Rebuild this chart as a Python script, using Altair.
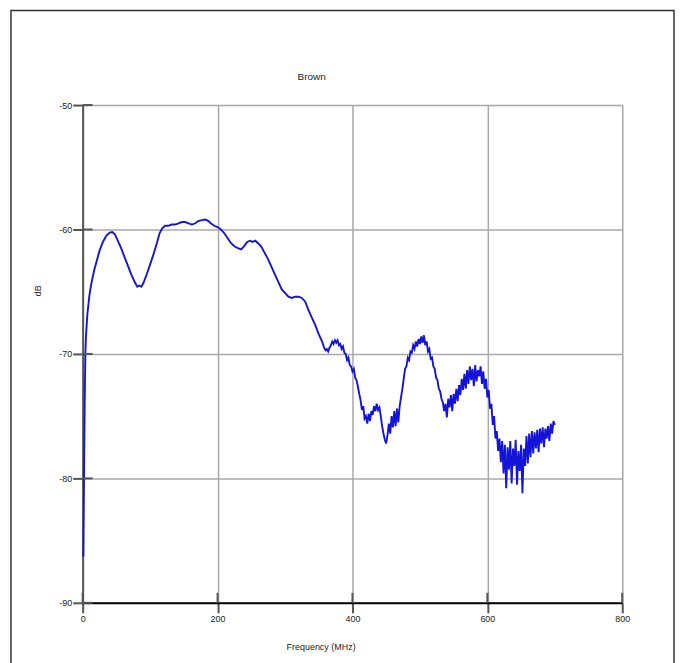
import altair as alt
import pandas as pd

# Frequency (MHz) and attenuation (dB)
freq_smooth = [1, 2, 3, 4, 5, 7, 10, 13, 17, 21, 25, 30, 35, 40, 44, 48, 52, 57, 62, 67,
               72, 77, 81, 84, 87, 90, 95, 100, 105, 110, 114, 118, 122, 127, 132, 137, 142, 147, 152, 157,
               162, 167, 172, 177, 182, 186, 190, 195, 200, 205, 210, 215, 220, 225, 230, 235, 240, 244, 248, 252,
               256, 260, 265, 270, 275, 280, 285, 290, 295, 300, 305, 310, 315, 320, 325, 330, 335, 340, 345, 350,
               355, 358]
db_smooth = [-86.3, -80.0, -74.0, -70.0, -68.5, -66.8, -65.3, -64.3, -63.3, -62.5, -61.7, -61.0, -60.5, -60.25, -60.2, -60.4, -60.9, -61.5, -62.2, -62.9,
             -63.6, -64.2, -64.6, -64.5, -64.6, -64.3, -63.6, -62.8, -62.0, -61.1, -60.3, -59.9, -59.7, -59.7, -59.6, -59.6, -59.5, -59.4, -59.4, -59.5,
             -59.6, -59.5, -59.3, -59.25, -59.2, -59.3, -59.5, -59.7, -59.8, -60.0, -60.3, -60.7, -61.1, -61.35, -61.5, -61.6, -61.3, -61.0, -60.9, -61.0,
             -60.9, -61.1, -61.4, -61.9, -62.4, -63.0, -63.6, -64.2, -64.8, -65.1, -65.4, -65.5, -65.4, -65.4, -65.5, -65.8, -66.5, -67.1, -67.7, -68.4,
             -69.0, -69.5]

freq_noisy = [360, 362, 364, 366, 368, 370, 372, 374, 376, 378, 380, 382, 384, 386, 388, 390, 392, 394, 396, 398,
              400, 402, 404, 406, 408, 410, 412, 414, 416, 418, 420, 422, 424, 426, 428, 430, 432, 434, 436, 438,
              440, 442, 444, 446, 448, 450, 452, 454, 456, 458, 460, 462, 464, 466, 468, 470, 472, 474, 476, 478,
              480, 482, 484, 486, 488, 490, 492, 494, 496, 498, 500, 502, 504, 506, 508, 510, 512, 514, 516, 518,
              520, 522, 524, 526, 528, 530, 532, 534, 536, 538, 540, 542, 544, 546, 548, 550, 552, 554, 556, 558,
              560, 562, 564, 566, 568, 570, 572, 574, 576, 578, 580, 582, 584, 586, 588, 590, 592, 594, 596, 598,
              600, 602, 604, 606, 608, 610, 612, 614, 616, 618, 620, 622, 624, 626, 628, 630, 632, 634, 636, 638,
              640, 642, 644, 646, 648, 650, 652, 654, 656, 658, 660, 662, 664, 666, 668, 670, 672, 674, 676, 678,
              680, 682, 684, 686, 688, 690, 692, 694, 696, 698, 700]
db_noisy = [-69.7, -69.6, -69.8, -69.5, -69.3, -69.0, -69.2, -68.9, -69.1, -68.9, -69.3, -69.2, -69.6, -69.4, -69.9, -70.0, -70.5, -70.3, -70.9, -71.0,
            -71.4, -71.2, -71.9, -72.1, -72.6, -73.2, -73.7, -74.5, -74.2, -75.2, -75.0, -75.6, -74.8, -75.4, -74.6, -74.9, -74.2, -74.6, -74.0, -74.5,
            -74.3, -75.0, -75.8, -76.4, -76.9, -77.2, -76.5, -75.6, -76.4, -75.0, -75.9, -74.6, -75.8, -74.4, -75.5, -74.2, -73.5, -72.8, -72.0, -71.2,
            -71.0, -70.3, -70.5, -69.8, -69.9, -69.3, -69.6, -69.0, -69.4, -68.8, -69.2, -68.6, -69.1, -68.5, -69.3, -69.0, -69.8, -69.6, -70.4, -70.3,
            -71.0, -71.2, -71.9, -72.1, -72.8, -73.0, -73.6, -73.9, -74.6, -74.0, -75.1, -73.6, -74.3, -73.3, -74.6, -73.2, -74.0, -72.8, -73.8, -72.5,
            -73.3, -72.0, -72.9, -71.6, -72.8, -71.3, -72.4, -71.0, -72.1, -71.2, -72.6, -70.9, -72.2, -71.3, -71.8, -71.0, -72.4, -71.4, -72.8, -72.0,
            -73.5, -72.9, -74.4, -74.0, -75.7, -75.0, -76.8, -76.2, -77.8, -76.8, -78.7, -77.0, -79.6, -77.3, -80.8, -77.5, -79.3, -77.0, -80.4, -77.6,
            -79.0, -76.9, -80.5, -77.8, -79.4, -77.3, -81.2, -77.6, -79.0, -76.6, -78.8, -76.4, -78.3, -76.2, -78.0, -76.3, -77.6, -76.1, -77.9, -76.0,
            -77.2, -75.9, -77.5, -76.0, -76.8, -75.8, -77.0, -75.6, -76.4, -75.4, -75.7]

x_ticks = [0, 200, 400, 600, 800]
y_ticks = [-90, -80, -70, -60, -50]
chart_title = ["Brown"]

df = pd.DataFrame({"f": freq_smooth + freq_noisy, "db": db_smooth + db_noisy})
df["order"] = range(len(df))

FONT = "Liberation Sans"
W, H = 542, 500

xscale = alt.Scale(domain=[0, 800], nice=False, zero=False)
yscale = alt.Scale(domain=[-90, -50], nice=False, zero=False)

x_axis = alt.Axis(values=x_ticks, title="Frequency (MHz)", grid=True, gridColor="#a8a8a8", gridWidth=1.5,
                  domainColor="#000000", domainWidth=2, tickColor="#555555", tickWidth=2, tickSize=10,
                  labelFont=FONT, labelFontSize=9, labelColor="#222222", labelPadding=2,
                  labelFlush=False, labelExpr="'' + datum.value",
                  titleFont=FONT, titleFontSize=9, titleFontWeight="normal", titleColor="#222222",
                  titleX=239, titleY=44, titleBaseline="middle", titleAlign="center")
y_axis = alt.Axis(values=y_ticks, title="dB", grid=True, gridColor="#a8a8a8", gridWidth=1.5,
                  domainColor="#555555", domainWidth=2, tickColor="#555555", tickWidth=2, tickSize=10,
                  labelFont=FONT, labelFontSize=9, labelColor="#222222", labelPadding=1,
                  labelFlush=False, labelExpr="'' + datum.value",
                  titleFont=FONT, titleFontSize=9, titleFontWeight="normal", titleColor="#222222",
                  titleX=-45, titleY=186, titleBaseline="middle", titleAlign="center", titleAngle=-90)

line = alt.Chart(df).mark_line(color="#1414d8", strokeWidth=1.9).encode(
    x=alt.X("f:Q", scale=xscale, axis=x_axis),
    y=alt.Y("db:Q", scale=yscale, axis=y_axis),
    order="order:Q",
)

# inward tick segments
xt = pd.DataFrame({"f": x_ticks, "y0": [-90] * 5, "y1": [-89.2] * 5})
x_in = alt.Chart(xt).mark_rule(color="#555555", strokeWidth=2).encode(
    x=alt.X("f:Q", scale=xscale), y=alt.Y("y0:Q", scale=yscale), y2="y1:Q")
yt = pd.DataFrame({"db": y_ticks, "x0": [0] * 5, "x1": [14.76] * 5})
y_in = alt.Chart(yt).mark_rule(color="#555555", strokeWidth=2).encode(
    y=alt.Y("db:Q", scale=yscale), x=alt.X("x0:Q", scale=xscale), x2="x1:Q")

frame = alt.Chart(pd.DataFrame({"k": [0]})).mark_rect(fill=None, stroke="#333333", strokeWidth=1.5).encode(
    x=alt.value(-72), x2=alt.value(594), y=alt.value(-95), y2=alt.value(575))

title = alt.Chart(pd.DataFrame({"t": chart_title})).mark_text(
    font=FONT, fontSize=10, color="#222222", align="center", baseline="middle").encode(
    text="t:N", x=alt.value(230), y=alt.value(-28))

chart = alt.layer(frame, line, x_in, y_in, title).properties(
    width=W, height=H,
    autosize=alt.AutoSizeParams(type="none"),
    padding={"left": 75, "top": 96, "right": 55, "bottom": 70},
).configure_view(stroke=None).configure(background="white")

chart.save("out.html", embed_options={"renderer": "svg", "actions": False})
